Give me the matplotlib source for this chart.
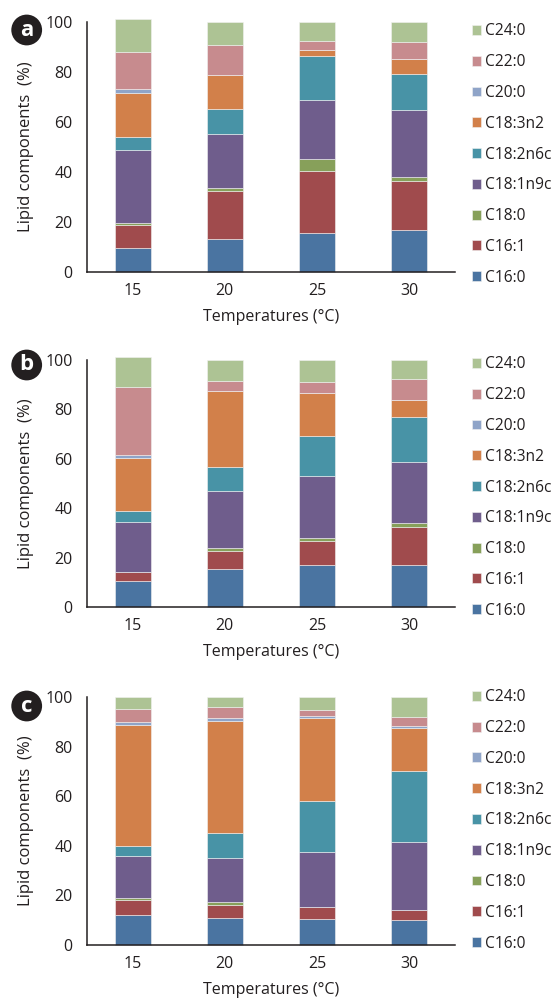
import matplotlib
matplotlib.use("Agg")
import matplotlib.pyplot as plt
import numpy as np

plt.rcParams['font.family'] = ['Open Sans', 'DejaVu Sans']

temperatures = ["15", "20", "25", "30"]
components = ["C16:0", "C16:1", "C18:0", "C18:1n9c", "C18:2n6c",
              "C18:3n2", "C20:0", "C22:0", "C24:0"]
colors = ["#4A74A1", "#A04B4D", "#87A05A", "#6F5D8C", "#4893A6",
          "#D2804A", "#8FA4C8", "#C78B8E", "#ADC394"]

# rows follow `components`, columns follow `temperatures`
panel_a = [
    [9.6, 13.2, 15.6, 16.9],
    [9.3, 19.4, 25.0, 19.4],
    [0.8, 1.0, 4.5, 1.6],
    [29.2, 21.7, 23.8, 26.7],
    [5.2, 9.9, 17.3, 14.5],
    [17.4, 13.4, 2.4, 5.9],
    [1.5, 0.0, 0.3, 0.0],
    [15.0, 12.1, 3.3, 7.0],
    [12.9, 9.3, 7.8, 8.0],
]
panel_b = [
    [10.5, 15.2, 17.0, 16.8],
    [3.8, 7.6, 9.8, 15.4],
    [0.0, 0.9, 1.1, 1.6],
    [19.9, 23.3, 25.2, 25.0],
    [4.6, 9.6, 15.9, 17.9],
    [21.6, 30.6, 17.4, 6.9],
    [1.1, 0.0, 0.0, 0.0],
    [27.6, 4.2, 4.7, 8.7],
    [11.8, 8.6, 8.9, 7.7],
]
panel_c = [
    [12.2, 11.0, 10.6, 10.0],
    [6.1, 5.3, 4.9, 4.0],
    [0.7, 1.1, 0.0, 0.0],
    [17.1, 17.9, 21.9, 27.7],
    [4.0, 10.1, 20.9, 28.4],
    [48.9, 45.2, 33.5, 17.6],
    [1.2, 0.9, 0.8, 0.8],
    [5.2, 4.7, 2.4, 3.5],
    [4.6, 3.8, 5.0, 8.0],
]
panel_letters = ["a", "b", "c"]
y_ticks = [0, 20, 40, 60, 80, 100]

W, H = 558, 1000
fig = plt.figure(figsize=(W / 100, H / 100), dpi=100)

# axes boxes in pixels: left, bottom(from top), right, top(from top)
boxes = [(86.7, 272.3, 455.0, 21.7),
         (86.7, 607.0, 455.0, 359.7),
         (86.7, 945.0, 455.0, 697.3)]
legend_centers = [0.47, 0.483, 0.503]
label_centers = [30.0, 365.0, 706.0]

x = np.arange(len(temperatures))
for data, box, letter, lc, cy in zip([panel_a, panel_b, panel_c], boxes,
                                     panel_letters, legend_centers, label_centers):
    l, b, r, t = box
    ax = fig.add_axes([l / W, 1 - b / H, (r - l) / W, (b - t) / H])
    bottom = np.zeros(len(temperatures))
    handles = []
    for name, col, row in zip(components, colors, data):
        vals = np.array(row)
        bars = ax.bar(x, vals, 0.39, bottom=bottom, color=col, label=name,
                      edgecolor="#f2f2f2", linewidth=0.4, clip_on=False)
        handles.append(bars)
        bottom += vals
    ax.set_xlim(-0.5, 3.5)
    ax.set_ylim(0, 100)
    ax.set_xticks(x)
    ax.set_xticklabels(temperatures)
    ax.set_yticks(y_ticks)
    ax.tick_params(axis="both", length=0, labelsize=11.5, colors="#231f20")
    ax.tick_params(axis="y", pad=10)
    ax.tick_params(axis="x", pad=8)
    for s in ["top", "right"]:
        ax.spines[s].set_visible(False)
    for s in ["left", "bottom"]:
        ax.spines[s].set_color("#231f20")
        ax.spines[s].set_linewidth(1.1)
    ax.set_xlabel("Temperatures (°C)", fontsize=11.5, color="#231f20", labelpad=7)
    ax.set_ylabel("Lipid components  (%)", fontsize=12, color="#231f20", labelpad=8)
    leg = ax.legend(handles[::-1], components[::-1], loc="center left",
                    bbox_to_anchor=(1.045, lc), frameon=False, fontsize=11.2,
                    handlelength=0.6, handleheight=0.6, handletextpad=0.25,
                    labelspacing=0.95, borderpad=0, borderaxespad=0)
    for txt in leg.get_texts():
        txt.set_color("#231f20")
    fig.text(26.7 / W, 1 - cy / H, letter, color="white", fontsize=16,
             fontweight="bold", ha="center", va="center",
             bbox=dict(boxstyle="circle,pad=0.22", fc="#231f20", ec="none"))

fig.savefig("out.png", dpi=100)
